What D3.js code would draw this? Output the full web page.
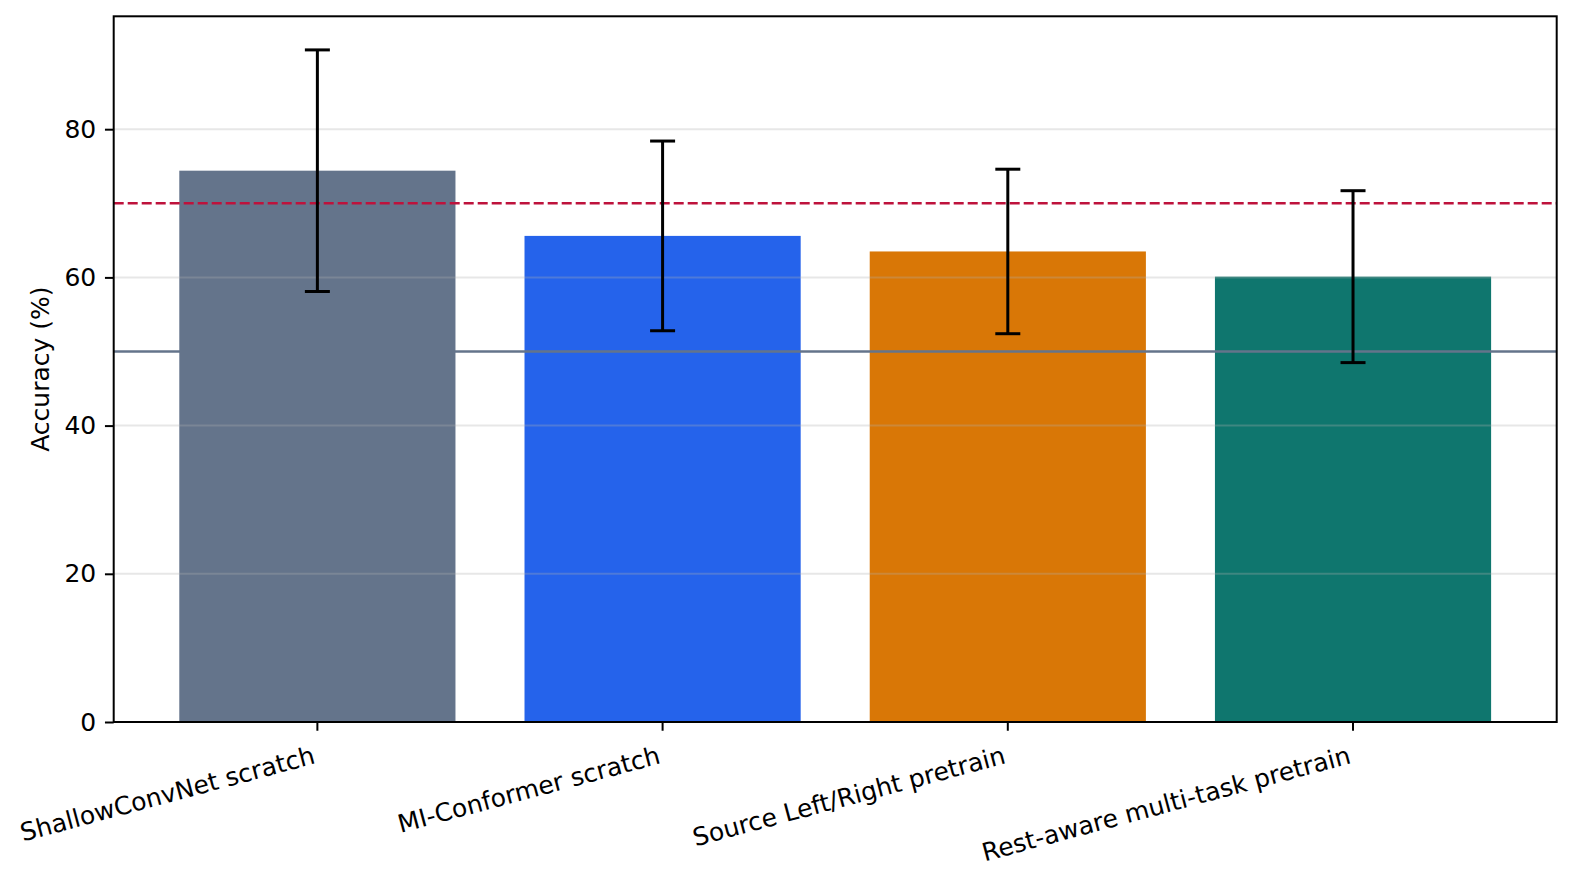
<!DOCTYPE html>
<html>
<head>
<meta charset="utf-8">
<script src="https://cdn.jsdelivr.net/npm/d3@7"></script>
<style>
  body { margin: 0; background: #fff; }
  text { font-family: "DejaVu Sans", sans-serif; fill: #000; }
</style>
</head>
<body>
<div id="chart"></div>
<script>
// ---- DATA ----
const methods = ["ShallowConvNet scratch", "MI-Conformer scratch", "Source Left/Right pretrain", "Rest-aware multi-task pretrain"];
const accuracy = [74.4, 65.6, 63.5, 60.1];
const accStd = [16.3, 12.8, 11.1, 11.6];
const barColors = ["#64748b", "#2563eb", "#d97706", "#0f766e"];
const yTicks = [0, 20, 40, 60, 80];
const targetLine = 70;
const chanceLine = 50;

const width = 1575;
const height = 880;
const margin = { top: 16.3, right: 18.3, bottom: 158, left: 113.7 };
const fontSize = 25;

const svg = d3.select("#chart")
  .append("svg")
  .attr("width", width)
  .attr("height", height);

svg.append("rect").attr("width", width).attr("height", height).attr("fill", "#fff");

// ---- SCALES ----
const x = d3.scaleBand()
  .domain(methods)
  .range([margin.left, width - margin.right])
  .paddingInner(0.2)
  .paddingOuter(0.19);

const yMax = d3.max(accuracy.map((v, i) => v + accStd[i])) * 1.05;
const y = d3.scaleLinear()
  .domain([0, yMax])
  .range([height - margin.bottom, margin.top]);

const rows = methods.map((m, i) => ({ m, v: accuracy[i], s: accStd[i], c: barColors[i] }));

// ---- BARS ----
svg.selectAll("rect.bar")
  .data(rows)
  .enter()
  .append("rect")
  .attr("class", "bar")
  .attr("x", d => x(d.m))
  .attr("y", d => y(d.v))
  .attr("width", x.bandwidth())
  .attr("height", d => y(0) - y(d.v))
  .attr("fill", d => d.c);

// ---- GRID ----
svg.selectAll("line.grid")
  .data(yTicks)
  .enter()
  .append("line")
  .attr("x1", margin.left)
  .attr("x2", width - margin.right)
  .attr("y1", d => y(d))
  .attr("y2", d => y(d))
  .attr("stroke", "#b0b0b0")
  .attr("stroke-opacity", 0.3)
  .attr("stroke-width", 2);

// ---- REFERENCE LINES ----
svg.append("line")
  .attr("x1", margin.left).attr("x2", width - margin.right)
  .attr("y1", y(chanceLine)).attr("y2", y(chanceLine))
  .attr("stroke", "#64748b")
  .attr("stroke-width", 2.5);

svg.append("line")
  .attr("x1", margin.left).attr("x2", width - margin.right)
  .attr("y1", y(targetLine)).attr("y2", y(targetLine))
  .attr("stroke", "#be123c")
  .attr("stroke-width", 2.5)
  .attr("stroke-dasharray", "10,4");

// ---- ERROR BARS ----
const cx = d => x(d.m) + x.bandwidth() / 2;
const err = svg.selectAll("g.err")
  .data(rows)
  .enter()
  .append("g")
  .attr("stroke", "#000")
  .attr("stroke-width", 3);

err.append("line")
  .attr("x1", cx).attr("x2", cx)
  .attr("y1", d => y(d.v + d.s))
  .attr("y2", d => y(d.v - d.s));

err.append("line")
  .attr("x1", d => cx(d) - 12.5).attr("x2", d => cx(d) + 12.5)
  .attr("y1", d => y(d.v + d.s)).attr("y2", d => y(d.v + d.s));

err.append("line")
  .attr("x1", d => cx(d) - 12.5).attr("x2", d => cx(d) + 12.5)
  .attr("y1", d => y(d.v - d.s)).attr("y2", d => y(d.v - d.s));

// ---- AXES ----
const yAxis = svg.append("g")
  .attr("transform", `translate(${margin.left},0)`)
  .call(d3.axisLeft(y).tickValues(yTicks).tickSize(8.75).tickPadding(8.75).tickFormat(d3.format("d")));

const xAxis = svg.append("g")
  .attr("transform", `translate(0,${height - margin.bottom})`)
  .call(d3.axisBottom(x).tickSize(8.75).tickPadding(8.75));

[yAxis, xAxis].forEach(g => {
  g.select(".domain").remove();
  g.selectAll(".tick line").attr("stroke", "#000").attr("stroke-width", 2);
  g.selectAll("text").attr("font-size", fontSize).attr("font-family", "DejaVu Sans").attr("fill", "#000");
});

xAxis.selectAll(".tick text")
  .attr("text-anchor", "end")
  .attr("dy", null)
  .attr("y", 0)
  .attr("transform", "translate(-1,41) rotate(-15)");

// ---- FRAME ----
svg.append("rect")
  .attr("x", margin.left)
  .attr("y", margin.top)
  .attr("width", width - margin.left - margin.right)
  .attr("height", height - margin.top - margin.bottom)
  .attr("fill", "none")
  .attr("stroke", "#000")
  .attr("stroke-width", 2);

// ---- LABEL ----
svg.append("text")
  .attr("transform", `translate(49,${(margin.top + height - margin.bottom) / 2}) rotate(-90)`)
  .attr("text-anchor", "middle")
  .attr("font-size", fontSize)
  .text("Accuracy (%)");
</script>
</body>
</html>
